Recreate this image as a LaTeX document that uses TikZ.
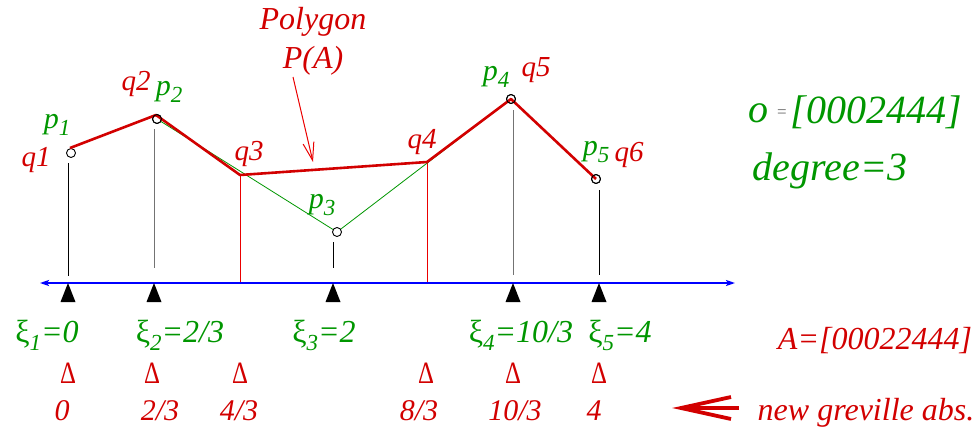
\documentclass[tikz,border=0pt]{standalone}
\usepackage{fontspec}
\setmainfont{Liberation Serif}
\usetikzlibrary{arrows.meta}
\definecolor{myred}{RGB}{210,0,0}
\definecolor{myred2}{RGB}{235,0,0}
\definecolor{mygreen}{RGB}{0,150,0}
\newcommand{\fs}[1]{\fontsize{#1}{#1}\selectfont}
\newcommand{\sbs}[1]{\raisebox{-0.55ex}{\fs{23}#1}}
\begin{document}
\begin{tikzpicture}[x=1pt,y=-1pt,
  pt/.style={circle,draw=black,fill=white,line width=0.9,inner sep=0,minimum size=9},
  poly/.style={draw=myred,line width=2.6,line join=round},
  gline/.style={draw=mygreen,line width=0.8},
  vline/.style={draw=black,line width=0.8},
  gvline/.style={draw=black!55,line width=1.0},
  rvline/.style={draw=myred2,line width=0.8},
  rlab/.style={text=myred,font=\fs{29}\itshape,inner sep=0},
  glab/.style={text=mygreen,font=\fs{30}\itshape,inner sep=0},
  ktri/.pic={\fill[black] (0,0) -- (-7.5,19) -- (7.5,19) -- cycle;},
]
\useasboundingbox (0,0) rectangle (978,429);
% control points and polygon vertices
\coordinate (c1) at (71,153);
\coordinate (c2) at (157,119);
\coordinate (c3) at (337,232);
\coordinate (c4) at (511,99);
\coordinate (c5) at (596,179);
\coordinate (q1) at (70,148);
\coordinate (q2) at (156,115);
\coordinate (q3) at (240,175);
\coordinate (q4) at (427,162);
% axis
\coordinate (axL) at (40,283);
\coordinate (axR) at (735,283);
% vertical lines
\draw[vline] (68,163) coordinate (v1t) -- (68,276) coordinate (v1b);
\draw[gvline] (154,129) coordinate (v2t) -- (154,268) coordinate (v2b);
\draw[vline] (333,242) coordinate (v3t) -- (333,268) coordinate (v3b);
\draw[gvline] (513,110) coordinate (v4t) -- (513,275) coordinate (v4b);
\draw[vline] (599,190) coordinate (v5t) -- (599,275) coordinate (v5b);
\draw[rvline] (q3) -- (q3 |- axL);
\draw[rvline] (q4) -- (q4 |- axL);
% green control polygon
\draw[gline] (c2) -- (c3) -- (c4);
% points
\node[pt] (p1) at (c1) {};
\node[pt] (p2) at (c2) {};
\node[pt] (p3) at (c3) {};
\node[pt] (p4) at (c4) {};
\node[pt] (p5) at (c5) {};
% red polygon P(A)
\draw[poly] (q1) -- (q2) -- (q3) -- (q4) -- (c4) -- (c5);
\draw[black,line width=0.9] (c2) circle[radius=4.5] (c4) circle[radius=4.5] (c5) circle[radius=4.5];
% axis
\draw[draw=blue,line width=2.4,{Stealth[length=9,width=6,inset=2]}-{Stealth[length=9,width=6,inset=2]}] (axL) -- (axR);
\foreach \x in {68,154,333,513,599} \pic at (\x,283) {ktri};
% point labels
\node[rlab] (lq1) at (36,160) {q1};
\node[glab] (lp1) at (57,125) {p\sbs{1}};
\node[rlab] (lq2) at (136,84) {q2};
\node[glab] (lp2) at (169,92) {p\sbs{2}};
\node[rlab] (lq3) at (249,154) {q3};
\node[glab] (lp3) at (322,205) {p\sbs{3}};
\node[rlab] (lq4) at (422,142) {q4};
\node[glab] (lp4) at (496,77) {p\sbs{4}};
\node[rlab] (lq5) at (536,70) {q5};
\node[glab] (lp5) at (596,152) {p\sbs{5}};
\node[rlab] (lq6) at (629,155) {q6};
% polygon label
\node[rlab,font=\fs{32}\itshape] (poly) at (313,22) {Polygon};
\node[rlab,font=\fs{32}\itshape] (pa) at (313,61) {P(A)};
\coordinate (arrS) at (293,77);
\coordinate (arrE) at (313,162);
\draw[myred2,line width=1,-{Straight Barb[length=18,width=11]}] (arrS) -- (arrE);
% right labels
\node[glab,font=\fs{40}\itshape] (ovo) at (758,113) {o};
\node[inner sep=0,text=black!60,font=\fs{17}] (oveq) at (782,114) {=};
\node[glab,font=\fs{40}\itshape] (ovec) at (876,112) {[0002444]};
\node[glab,font=\fs{40}\itshape] (deg) at (830,171) {degree=3};
% greville abscissae
\node[glab,font=\fs{32}\itshape] (xi1) at (47,335) {{\upshape ξ}\sbs{1}=0};
\node[glab,font=\fs{32}\itshape] (xi2) at (180,335) {{\upshape ξ}\sbs{2}=2/3};
\node[glab,font=\fs{32}\itshape] (xi3) at (324,335) {{\upshape ξ}\sbs{3}=2};
\node[glab,font=\fs{32}\itshape] (xi4) at (521,335) {{\upshape ξ}\sbs{4}=10/3};
\node[glab,font=\fs{32}\itshape] (xi5) at (620,335) {{\upshape ξ}\sbs{5}=4};
% new abscissae markers
\foreach \x/\n in {68/d1,152/d2,240/d3,426/d4,513/d5,599/d6}
  \node[rlab,font=\fs{31}\upshape] (\n) at (\x,373) {\scalebox{0.8}[1]{Δ}};
\node[rlab,font=\fs{30}\itshape] (n1) at (62,411) {0};
\node[rlab,font=\fs{30}\itshape] (n2) at (160,411) {2/3};
\node[rlab,font=\fs{30}\itshape] (n3) at (239,411) {4/3};
\node[rlab,font=\fs{30}\itshape] (n4) at (419,411) {8/3};
\node[rlab,font=\fs{30}\itshape] (n5) at (515,411) {10/3};
\node[rlab,font=\fs{30}\itshape] (n6) at (594,411) {4};
\node[rlab,font=\fs{32}\itshape] (avec) at (875,341) {A=[00022444]};
\node[rlab,font=\fs{32}\itshape] (newg) at (866,413) {new greville abs.};
% double arrow
\coordinate (dtip) at (681,408);
\coordinate (du) at (731,397);
\coordinate (dm) at (739,408);
\coordinate (dl) at (731,419);
\draw[myred,line width=3.8] (du) -- (dtip) -- (dl);
\draw[myred,line width=3.8] (dtip) -- (dm);
\end{tikzpicture}
\end{document}
